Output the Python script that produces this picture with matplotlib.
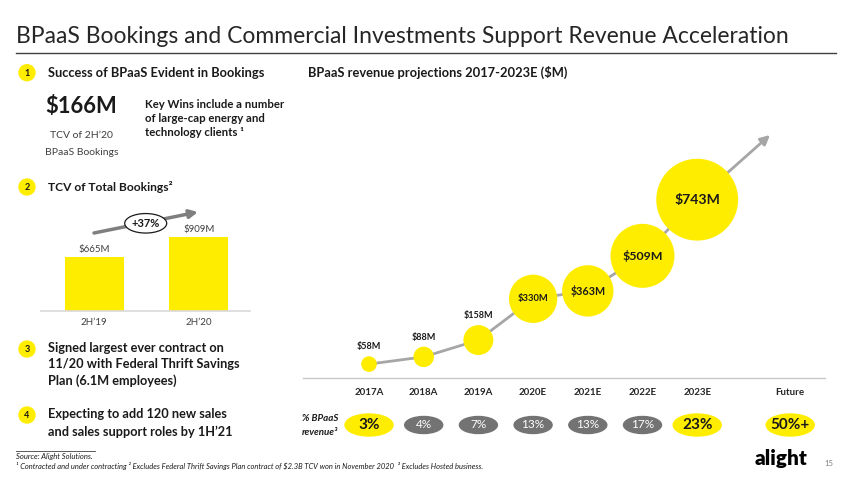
import matplotlib
matplotlib.use("Agg")
import matplotlib.pyplot as plt
from matplotlib.patches import Ellipse, Circle

plt.rcParams['font.family'] = ['Lato', 'DejaVu Sans']

# ---------------- data ----------------
title = "BPaaS Bookings and Commercial Investments Support Revenue Acceleration"
rev_years = ["2017A", "2018A", "2019A", "2020E", "2021E", "2022E", "2023E"]
rev_values = [58, 88, 158, 330, 363, 509, 743]
share_categories = rev_years + ["Future"]
share_labels = ["3%", "4%", "7%", "13%", "13%", "17%", "23%", "50%+"]
share_highlight = [True, False, False, False, False, False, True, True]
tcv_periods = ["2H’19", "2H’20"]
tcv_values = [665, 909]
tcv_growth = "+37%"
bpaas_tcv = "$166M"

# ---------------- style ----------------
YELLOW = "#FFED00"
DARK = "#1A1A1A"
GREY_TXT = "#404040"
W, H = 850, 479

fig = plt.figure(figsize=(W / 100, H / 100), dpi=100)
fig.patch.set_facecolor("white")
bg = fig.add_axes([0, 0, 1, 1])
bg.set_xlim(0, W)
bg.set_ylim(H, 0)
bg.axis("off")

fits = []  # (group of texts, reference text, target width px)


def txt(x, y, s, size=10, width=None, group=None, **kw):
    t = bg.text(x, y, s, fontsize=size, **kw)
    if width is not None:
        fits.append(([t] + (group or []), t, width))
    return t


def px_axes(l, t, r, b):
    return fig.add_axes([l / W, 1 - b / H, (r - l) / W, (b - t) / H])


# ---- title ----
txt(16, 43, title, 17, width=771, color="#262626", va="baseline")
bg.plot([16, 836], [53, 53], color="#404040", lw=1)

# ---- numbered bullets ----
for n, y in zip(["1", "2", "3", "4"], [72.7, 187, 349, 415]):
    bg.add_patch(Circle((27, y), 8, color=YELLOW, zorder=2))
    bg.text(27, y + 0.5, n, fontsize=6.5, fontweight="bold", ha="center", va="center",
            color=DARK, zorder=3)

txt(48, 77, "Success of BPaaS Evident in Bookings", 10, width=217,
    fontweight="bold", color=DARK, va="baseline")
txt(308, 77, "BPaaS revenue projections 2017-2023E ($M)", 10, width=259,
    fontweight="bold", color=DARK, va="baseline")

# ---- $166M block ----
txt(45, 113, bpaas_tcv, 16, width=72, fontweight="bold", color=DARK, va="baseline")
l2 = bg.text(81.7, 155, "BPaaS Bookings", fontsize=8, color=GREY_TXT, ha="center", va="baseline")
txt(81.7, 138, "TCV of 2H’20", 8, width=63, group=[l2], color=GREY_TXT, ha="center",
    va="baseline")
kw2 = bg.text(145, 122, "of large-cap energy and", fontsize=7.5, fontweight="bold",
              color=DARK, va="baseline")
kw3 = bg.text(145, 136.5, "technology clients ¹", fontsize=7.5, fontweight="bold",
              color=DARK, va="baseline")
txt(145, 108.3, "Key Wins include a number", 7.5, width=138, group=[kw2, kw3],
    fontweight="bold", color=DARK, va="baseline")

txt(48, 191, "TCV of Total Bookings²", 10, width=125, fontweight="bold",
    color=DARK, va="baseline")

# ---- items 3 & 4 ----
i3b = bg.text(48, 351.5, "Signed largest ever contract on", fontsize=10,
              fontweight="bold", color=DARK, va="baseline")
i3c = bg.text(48, 385, "Plan (6.1M employees)", fontsize=10, fontweight="bold",
              color=DARK, va="baseline")
i4a = bg.text(48, 418.5, "Expecting to add 120 new sales", fontsize=10,
              fontweight="bold", color=DARK, va="baseline")
i4b = bg.text(48, 435.5, "and sales support roles by 1H’21", fontsize=10,
              fontweight="bold", color=DARK, va="baseline")
txt(48, 368, "11/20 with Federal Thrift Savings", 10, width=192,
    group=[i3b, i3c, i4a, i4b], fontweight="bold", color=DARK, va="baseline")

# ---- TCV bar chart ----
ax_t = px_axes(41, 200, 250, 311)
x_t = list(range(len(tcv_values)))
ax_t.bar(x_t, tcv_values, width=0.562, color=YELLOW, zorder=2)
ax_t.set_xlim(-0.505, 1.486)
ax_t.set_ylim(0, 1365)
for s in ["top", "right", "left"]:
    ax_t.spines[s].set_visible(False)
ax_t.spines["bottom"].set_color("#D9D9D9")
ax_t.spines["bottom"].set_linewidth(1.2)
ax_t.set_yticks([])
ax_t.set_xticks(x_t)
ax_t.set_xticklabels(tcv_periods, fontsize=7, color=GREY_TXT)
ax_t.tick_params(axis="x", length=0, pad=5)
ax_t.patch.set_alpha(0)
for xi, v in zip(x_t, tcv_values):
    ax_t.annotate(f"${v}M", (xi, v), xytext=(0, 5.5), textcoords="offset points",
                  ha="center", va="center", fontsize=7, color=GREY_TXT)

bg.annotate("", xy=(198, 212), xytext=(94, 233),
            arrowprops=dict(arrowstyle="-|>", color="#7F7F7F", lw=2.5,
                            mutation_scale=12, shrinkA=0, shrinkB=0), zorder=4)
bg.add_patch(Ellipse((145.7, 223.3), 42, 19.5, facecolor="white", edgecolor=DARK,
                     lw=0.9, zorder=5))
bg.text(145.7, 223.8, tcv_growth, fontsize=8, fontweight="bold", ha="center", va="center",
        color=DARK, zorder=6)

# ---- BPaaS revenue bubbles ----
X0, DX = 369, 54.7          # px of first category and spacing
YSC = 0.24                  # px per $M
AL, AR, AT, AB = 303, 825, 110, 378
ax_b = px_axes(AL, AT, AR, AB)
ax_b.set_xlim((AL - X0) / DX, (AR - X0) / DX)
ax_b.set_ylim(0, (AB - AT) / YSC)
ax_b.patch.set_alpha(0)
for s in ["top", "right", "left"]:
    ax_b.spines[s].set_visible(False)
ax_b.spines["bottom"].set_color("#C8C8C8")
ax_b.spines["bottom"].set_linewidth(1)
ax_b.set_yticks([])
x_cat = list(range(len(rev_years))) + [7.7]
ax_b.set_xticks(x_cat)
ax_b.set_xticklabels(share_categories, fontsize=7, fontweight="bold", color="#262626")
ax_b.tick_params(axis="x", length=0, pad=7)

xb = list(range(len(rev_values)))
radii_px = [7.8 * (v / rev_values[0]) ** 0.65 for v in rev_values]
sizes = [(2 * r * 0.72) ** 2 for r in radii_px]
ax_b.plot(xb, rev_values, color="#A6A6A6", lw=2, zorder=1, solid_capstyle="round")
tip_x, tip_y = (770 - X0) / DX, (AB - 135) / YSC
ax_b.annotate("", xy=(tip_x, tip_y), xytext=(xb[-1], rev_values[-1]),
              arrowprops=dict(arrowstyle="-|>", color="#A6A6A6", lw=2,
                              mutation_scale=14, shrinkA=0, shrinkB=0), zorder=1)
ax_b.scatter(xb, rev_values, s=sizes, color=YELLOW, edgecolors="none", zorder=3)

inside_width = {330: 30.5, 363: 35, 509: 40.5, 743: 46}
for xi, v, r in zip(xb, rev_values, radii_px):
    if v in inside_width:
        t = ax_b.annotate(f"${v}M", (xi, v), ha="center", va="center", fontsize=9,
                          fontweight="bold", color=DARK, zorder=4)
        fits.append(([t], t, inside_width[v]))
    else:
        t = ax_b.annotate(f"${v}M", (xi, v), xytext=(0, (r + 9.5) * 0.72),
                          textcoords="offset points", ha="center", va="center",
                          fontsize=6.5, fontweight="bold", color=DARK, zorder=4)

# ---- share of revenue row ----
ax_p = px_axes(AL, 405, AR, 445)
ax_p.set_xlim(ax_b.get_xlim())
ax_p.set_ylim(0, 1)
ax_p.axis("off")
for xc, lab, hi in zip(x_cat, share_labels, share_highlight):
    if hi:
        ax_p.add_patch(Ellipse((xc, 0.5), 48 / DX, 22 / 40, color=YELLOW))
        ax_p.text(xc, 0.5, lab, ha="center", va="center", fontsize=11,
                  fontweight="bold", color=DARK)
    else:
        ax_p.add_patch(Ellipse((xc, 0.5), 38 / DX, 17 / 40, color="#737373"))
        ax_p.text(xc, 0.5, lab, ha="center", va="center", fontsize=8.5,
                  color="white")

bg.text(338, 418.5, "% BPaaS", fontsize=7, fontweight="bold", style="italic",
        ha="right", va="center", color=DARK)
bg.text(338, 432.5, "revenue³", fontsize=7, fontweight="bold", style="italic",
        ha="right", va="center", color=DARK)

# ---- footnotes ----
bg.plot([16, 95], [450.7, 450.7], color="#404040", lw=0.6)
txt(16, 456.7, "Source: Alight Solutions.", 5, width=78, style="italic",
    color=DARK, va="center")
txt(16, 466.3, "¹ Contracted and under contracting ² Excludes Federal Thrift Savings Plan "
    "contract of $2.3B TCV won in November 2020  ³ Excludes Hosted business.", 5,
    width=474, style="italic", color=DARK, va="center")

txt(755, 458, "alight", 14, width=52, fontweight="heavy", color="black", va="center")
bg.text(829, 463, "15", fontsize=5.5, color="#7F7F7F", ha="center", va="center")

# ---- fit text widths ----
fig.canvas.draw()
rend = fig.canvas.get_renderer()
for group, ref, width in fits:
    w = ref.get_window_extent(rend).width
    f = width / w
    for t in group:
        t.set_fontsize(t.get_fontsize() * f)

fig.savefig("out.png", dpi=100, facecolor="white")
